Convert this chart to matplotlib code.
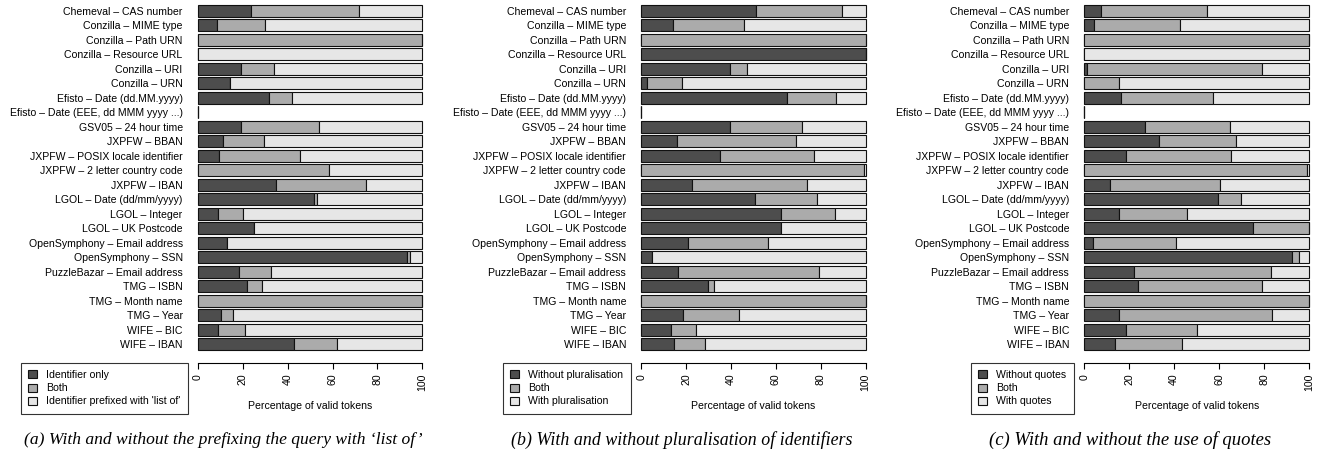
import matplotlib
matplotlib.use("Agg")
import matplotlib.pyplot as plt
from matplotlib.patches import Patch

plt.rcParams['font.family'] = ['Liberation Sans', 'DejaVu Sans']

labels = [
    "Chemeval \u2013 CAS number", "Conzilla \u2013 MIME type", "Conzilla \u2013 Path URN",
    "Conzilla \u2013 Resource URL", "Conzilla \u2013 URI", "Conzilla \u2013 URN",
    "Efisto \u2013 Date (dd.MM.yyyy)", "Efisto \u2013 Date (EEE, dd MMM yyyy ...)",
    "GSV05 \u2013 24 hour time", "JXPFW \u2013 BBAN", "JXPFW \u2013 POSIX locale identifier",
    "JXPFW \u2013 2 letter country code", "JXPFW \u2013 IBAN", "LGOL \u2013 Date (dd/mm/yyyy)",
    "LGOL \u2013 Integer", "LGOL \u2013 UK Postcode", "OpenSymphony \u2013 Email address",
    "OpenSymphony \u2013 SSN", "PuzzleBazar \u2013 Email address", "TMG \u2013 ISBN",
    "TMG \u2013 Month name", "TMG \u2013 Year", "WIFE \u2013 BIC", "WIFE \u2013 IBAN",
]

# (a) list of prefix
a_dark = [23.5, 8.6, 0, 0, 19.2, 14.4, 31.8, 0, 19.3, 11.1, 9.5, 0, 34.9, 51.7, 8.9, 24.8, 12.9, 93.3, 18.4, 21.8, 0, 10.1, 8.8, 42.6]
a_both = [48.5, 21.1, 100, 0, 14.5, 0, 10.0, 0, 34.7, 18.2, 36.1, 58.5, 39.8, 1.5, 11.3, 0, 0, 1.4, 14.1, 6.6, 100, 5.7, 12.3, 19.4]
a_light = [28.0, 70.3, 0, 100, 66.3, 85.6, 58.2, 0, 46.0, 70.7, 54.4, 41.5, 25.3, 46.8, 79.8, 75.2, 87.1, 5.3, 67.5, 71.6, 0, 84.2, 78.9, 38.0]

# (b) pluralisation
b_dark = [51.1, 14.1, 0, 100, 39.4, 2.4, 64.8, 0, 39.4, 16.0, 35.1, 0, 22.6, 50.8, 62.4, 62.4, 20.8, 4.8, 16.2, 29.9, 0, 18.6, 13.2, 14.6]
b_both = [38.2, 31.7, 100, 0, 7.9, 15.6, 22.1, 0, 32.1, 52.8, 41.7, 99.2, 51.2, 27.7, 23.8, 0, 35.8, 0, 63.1, 2.6, 100, 24.9, 11.0, 13.8]
b_light = [10.7, 54.2, 0, 0, 52.7, 82.0, 13.1, 0, 28.5, 31.2, 23.2, 0.8, 26.2, 21.5, 13.8, 37.6, 43.4, 95.2, 20.7, 67.5, 0, 56.5, 75.8, 71.6]

# (c) quotes
c_dark = [7.6, 4.5, 0, 0, 1.3, 0, 16.5, 0, 27.0, 33.1, 18.4, 0, 11.4, 59.6, 15.6, 75.1, 4.0, 92.6, 22.0, 24.0, 0, 15.6, 18.4, 13.8]
c_both = [47.1, 38.2, 100, 0, 77.9, 15.6, 40.6, 0, 37.8, 34.6, 46.9, 99.1, 48.8, 10.3, 29.9, 24.9, 37.0, 3.1, 61.0, 55.2, 100, 68.1, 31.6, 29.5]
c_light = [45.3, 57.3, 0, 100, 20.8, 84.4, 42.9, 0, 35.2, 32.3, 34.7, 0.9, 39.8, 30.1, 54.5, 0, 59.0, 4.3, 17.0, 20.8, 0, 16.3, 50.0, 56.7]

W, H = 1317, 454
cols = ["#4d4d4d", "#ababab", "#e6e6e6"]
fs = 7.6

panels = [
    (198, 422.3, (a_dark, a_both, a_light),
     ["Identifier only", "Both", "Identifier prefixed with 'list of'"], 20.7,
     "(a) With and without the prefixing the query with \u2018list of\u2019", 223, 12.6),
    (641.3, 865.7, (b_dark, b_both, b_light),
     ["Without pluralisation", "Both", "With pluralisation"], 503,
     "(b) With and without pluralisation of identifiers", 682, 12.9),
    (1084.3, 1309, (c_dark, c_both, c_light),
     ["Without quotes", "Both", "With quotes"], 971,
     "(c) With and without the use of quotes", 1130, 13.4),
]

fig = plt.figure(figsize=(W / 100, H / 100), dpi=100)

y = list(range(len(labels)))
for x0, x1, series, leg, lx0, cap, capx, capfs in panels:
    ax = fig.add_axes([x0 / W, 1 - 352.9 / H, (x1 - x0) / W, 350.9 / H])
    left = [0] * len(labels)
    for vals, c in zip(series, cols):
        ax.barh(y, vals, left=left, height=0.85, color=c, edgecolor="#111111",
                linewidth=0.8, clip_on=False)
        left = [l + v for l, v in zip(left, vals)]
    ax.set_xlim(0, 100)
    ax.set_ylim(23.6, -0.6)
    ax.set_yticks(y)
    ax.set_yticklabels(labels, fontsize=fs)
    ax.tick_params(axis='y', length=0, pad=11)
    for s in ["top", "right", "left"]:
        ax.spines[s].set_visible(False)
    ax.spines["bottom"].set_position(("outward", 7.6))
    ax.spines["bottom"].set_bounds(0, 100)
    ax.spines["bottom"].set_linewidth(0.8)
    ax.set_xticks([0, 20, 40, 60, 80, 100])
    ax.set_xticklabels(["0", "20", "40", "60", "80", "100"], rotation=90, fontsize=fs)
    ax.tick_params(axis='x', length=4.5, width=0.8, pad=3)
    ax.set_xlabel("Percentage of valid tokens", fontsize=fs, labelpad=7)

    handles = [Patch(facecolor=c, edgecolor="#111111", linewidth=0.8) for c in cols]
    lg = fig.legend(handles, leg, loc="upper left",
                    bbox_to_anchor=(lx0 / W, 1 - 362.7 / H), bbox_transform=fig.transFigure,
                    fontsize=fs, frameon=True, fancybox=False, handlelength=0.8,
                    handleheight=0.8, handletextpad=0.9, labelspacing=0.3,
                    borderpad=0.7, borderaxespad=0)
    lg.get_frame().set_edgecolor("black")
    lg.get_frame().set_linewidth(0.8)

    fig.text(capx / W, 1 - 440 / H, cap, ha="center", va="center",
             family="Liberation Serif", style="italic", fontsize=capfs)

fig.savefig("out.png", dpi=100)
